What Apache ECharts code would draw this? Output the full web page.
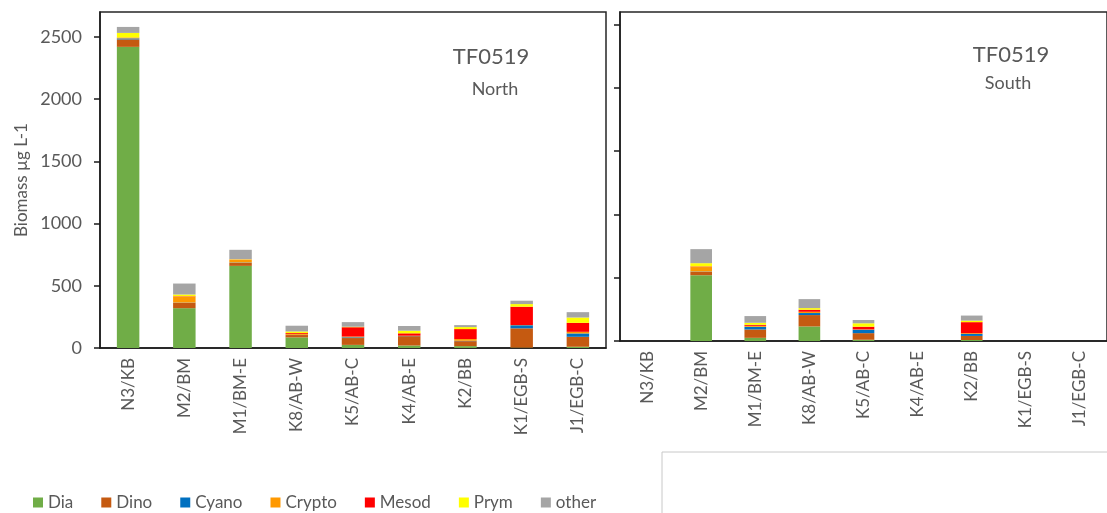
<!DOCTYPE html>
<html>
<head>
<meta charset="utf-8">
<script src="https://cdn.jsdelivr.net/npm/echarts@6/dist/echarts.min.js"></script>
<style>
  html, body { margin: 0; padding: 0; background: #fff; }
  #chart { width: 1107px; height: 513px; }
</style>
</head>
<body>
<div id="chart"></div>
<script>
// Stations along the transect (same order in both panels)
const stations = ['N3/KB', 'M2/BM', 'M1/BM-E', 'K8/AB-W', 'K5/AB-C', 'K4/AB-E', 'K2/BB', 'K1/EGB-S', 'J1/EGB-C'];
const groups = ['Dia', 'Dino', 'Cyano', 'Crypto', 'Mesod', 'Prym', 'other'];
const groupColors = ['#70AD47', '#C55A11', '#0070C0', '#FF9900', '#FF0000', '#FFFF00', '#A5A5A5'];
const yTicks = [0, 500, 1000, 1500, 2000, 2500];

// Biomass (µg L-1), North
const northDia    = [2420, 320, 660, 85, 25, 20, 15, 3, 10];
const northDino   = [60, 43, 24, 19, 55, 75, 40, 155, 80];
const northCyano  = [8, 2, 3, 2, 6, 2, 3, 25, 27];
const northCrypto = [8, 48, 22, 7, 6, 2, 14, 2, 13];
const northMesod  = [0, 3, 2, 7, 75, 19, 80, 147, 72];
const northPrym   = [36, 14, 3, 13, 4, 21, 16, 21, 43];
const northOther  = [48, 88, 75, 46, 37, 38, 16, 27, 43];

// Biomass (µg L-1), South (null = not sampled)
const southDia    = [null, 520, 25, 115, 10, null, 8, null, null];
const southDino   = [null, 26, 66, 90, 52, null, 32, null, null];
const southCyano  = [null, 3, 21, 16, 27, null, 16, null, null];
const southCrypto = [null, 35, 8, 10, 3, null, 6, null, null];
const southMesod  = [null, 5, 8, 16, 21, null, 87, null, null];
const southPrym   = [null, 26, 16, 13, 27, null, 12, null, null];
const southOther  = [null, 111, 53, 71, 26, null, 40, null, null];

const northSets = [northDia, northDino, northCyano, northCrypto, northMesod, northPrym, northOther];
const southSets = [southDia, southDino, southCyano, southCrypto, southMesod, southPrym, southOther];

const FONT = 'Lato';
const TXT = '#595959';

const series = [];
groups.forEach((g, i) => {
  series.push({
    name: g, type: 'bar', stack: 'north', xAxisIndex: 0, yAxisIndex: 0,
    data: northSets[i], barCategoryGap: '60%',
    itemStyle: { color: groupColors[i] }
  });
  series.push({
    name: g, type: 'bar', stack: 'south', xAxisIndex: 1, yAxisIndex: 1,
    data: southSets[i], barCategoryGap: '60%',
    itemStyle: { color: groupColors[i] }
  });
});

function xAxisFor(gridIndex) {
  return {
    type: 'category', gridIndex, data: stations,
    axisLine: { show: true, lineStyle: { color: '#1a1a1a', width: 1.5 } },
    axisTick: { show: false },
    axisLabel: { rotate: 90, interval: 0, margin: 10, fontSize: 17, color: TXT, fontFamily: FONT }
  };
}

function yAxisFor(gridIndex, max, showLabels) {
  return {
    type: 'value', gridIndex, min: 0, max,
    splitLine: { show: false },
    axisLine: { show: true, lineStyle: { color: '#1a1a1a', width: 1.5 } },
    axisTick: { show: true, length: 6, customValues: yTicks, lineStyle: { color: '#1a1a1a', width: 1.5 } },
    axisLabel: {
      show: showLabels, customValues: yTicks, margin: 18, fontSize: 18, color: TXT, fontFamily: FONT,
      formatter: v => String(v)
    }
  };
}

const chart = echarts.init(document.getElementById('chart'), null, { renderer: 'canvas' });
chart.setOption({
  backgroundColor: '#fff',
  animation: false,
  textStyle: { fontFamily: FONT },
  grid: [
    { left: 100, right: 501, top: 12, bottom: 165, show: true, borderColor: '#262626', borderWidth: 1.5, containLabel: false },
    { left: 620, right: -10, top: 12, bottom: 172, show: true, borderColor: '#262626', borderWidth: 1.5, containLabel: false }
  ],
  xAxis: [xAxisFor(0), xAxisFor(1)],
  yAxis: [
    Object.assign(yAxisFor(0, 2700, true), {
      name: 'Biomass µg L-1', nameLocation: 'middle', nameGap: 70, nameRotate: 90,
      nameTextStyle: { fontSize: 17, color: TXT, fontFamily: FONT }
    }),
    yAxisFor(1, 2600, false)
  ],
  legend: {
    data: groups, left: 28, top: 489, icon: 'rect',
    itemWidth: 10, itemHeight: 10, itemGap: 28,
    textStyle: { fontSize: 17, color: TXT, fontFamily: FONT }
  },
  graphic: [
    { type: 'text', position: [491, 57], style: { text: 'TF0519', fill: TXT, font: '22px ' + FONT, textAlign: 'center', textVerticalAlign: 'middle' } },
    { type: 'text', position: [495, 89], style: { text: 'North', fill: TXT, font: '18px ' + FONT, textAlign: 'center', textVerticalAlign: 'middle' } },
    { type: 'text', position: [1011, 55], style: { text: 'TF0519', fill: TXT, font: '22px ' + FONT, textAlign: 'center', textVerticalAlign: 'middle' } },
    { type: 'text', position: [1008, 83], style: { text: 'South', fill: TXT, font: '18px ' + FONT, textAlign: 'center', textVerticalAlign: 'middle' } },
    { type: 'rect', shape: { x: 662, y: 452, width: 480, height: 80 }, style: { fill: '#fff', stroke: '#c8c8c8', lineWidth: 1 }, z: -1 }
  ],
  series
});
</script>
</body>
</html>
